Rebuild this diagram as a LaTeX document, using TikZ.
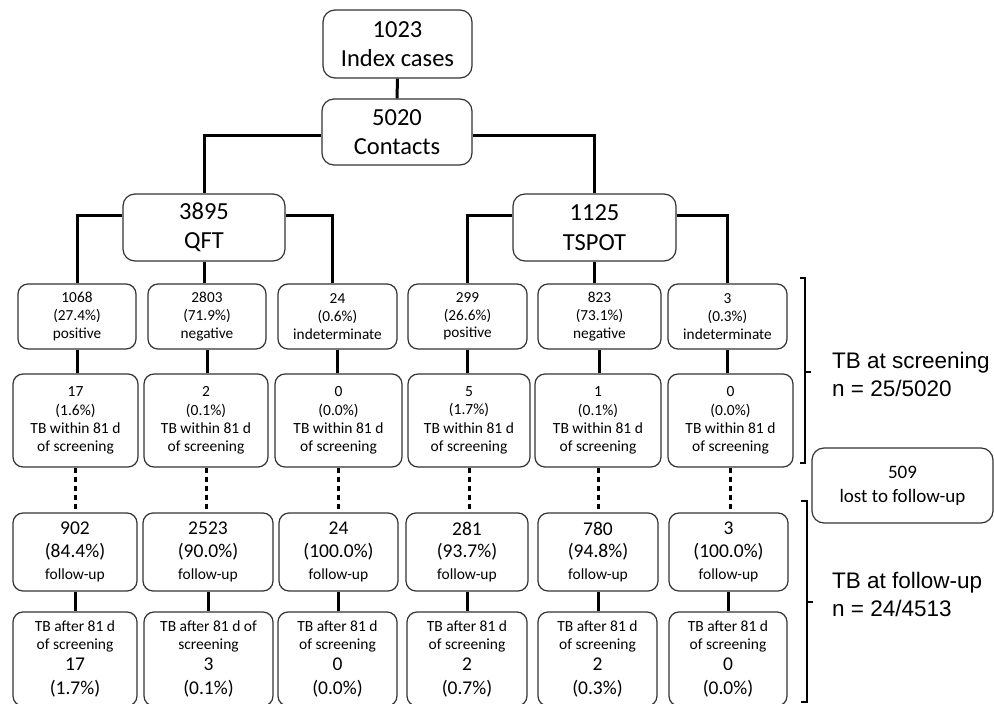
\documentclass[tikz,border=0pt]{standalone}
\usepackage{fontspec}
\newfontfamily\calfont{Carlito}
\newfontfamily\arfont{Liberation Sans}
\begin{document}
\begin{tikzpicture}[x=1pt,y=-1pt,
  box/.style={draw=black!80, line width=1.2pt, rounded corners=10pt, align=center, inner sep=0pt, text=black},
  big/.style={box, rounded corners=12pt, font=\calfont\fontsize{24.5}{29.5}\selectfont},
  rowa/.style={box, minimum height=65pt, font=\calfont\fontsize{15.3}{17.7}\selectfont},
  rowb/.style={box, minimum height=93pt, font=\calfont\fontsize{15.5}{18.3}\selectfont},
  rowc/.style={box, minimum height=78pt, font=\calfont\fontsize{19.5}{22.3}\selectfont},
  rowd/.style={box, minimum height=94pt, font=\calfont\fontsize{15.5}{18}\selectfont},
  conn/.style={line width=3pt, draw=black},
  dconn/.style={conn, dash pattern=on 5.5pt off 3.5pt},
  brk/.style={line width=2.7pt, draw=black},
  side/.style={anchor=west, align=left, inner sep=0pt, font=\arfont\fontsize{22.5}{28}\selectfont}
]
\useasboundingbox (0,0) rectangle (994,704);

% top
\node[big, minimum width=149pt, minimum height=68pt] (idx) at (397.5,44) {1023\\Index cases};
\node[big, minimum width=150pt, minimum height=66pt] (con) at (397,132) {5020\\Contacts};
\node[big, minimum width=162pt, minimum height=67pt] (qft) at (204,227.5) {3895\\QFT};
\node[big, minimum width=163pt, minimum height=67pt] (tsp) at (594.5,227.5) {1125\\TSPOT};

% row 1
\node[rowa, minimum width=118pt] (p1) at (77,316.5) {1068\\(27.4\%)\\positive};
\node[rowa, minimum width=118pt] (n1) at (207,316.5) {2803\\(71.9\%)\\negative};
\node[rowa, minimum width=119pt] (i1) at (337.5,316.5) {24\\(0.6\%)\\indeterminate};
\node[rowa, minimum width=119pt] (p2) at (467.5,316.5) {299\\(26.6\%)\\positive};
\node[rowa, minimum width=123pt] (n2) at (599.5,316.5) {823\\(73.1\%)\\negative};
\node[rowa, minimum width=119pt] (i2) at (727.5,316.5) {3\\(0.3\%)\\indeterminate};

% row 2
\node[rowb, minimum width=125pt] (s1) at (75.5,420.5) {17\\(1.6\%)\\TB within 81 d\\of screening};
\node[rowb, minimum width=124pt] (s2) at (206,420.5) {2\\(0.1\%)\\TB within 81 d\\of screening};
\node[rowb, minimum width=127pt] (s3) at (338.5,420.5) {0\\(0.0\%)\\TB within 81 d\\of screening};
\node[rowb, minimum width=122pt] (s4) at (469,420.5) {5\\(1.7\%)\\TB within 81 d\\of screening};
\node[rowb, minimum width=126pt] (s5) at (598,420.5) {1\\(0.1\%)\\TB within 81 d\\of screening};
\node[rowb, minimum width=125pt] (s6) at (730.5,420.5) {0\\(0.0\%)\\TB within 81 d\\of screening};

% row 3
\node[rowc, minimum width=124pt] (f1) at (75,552) {902\\(84.4\%)\\{\fontsize{15.5}{18}\selectfont follow-up}};
\node[rowc, minimum width=130pt] (f2) at (208,552) {2523\\(90.0\%)\\{\fontsize{15.5}{18}\selectfont follow-up}};
\node[rowc, minimum width=119pt] (f3) at (338.5,552) {24\\(100.0\%)\\{\fontsize{15.5}{18}\selectfont follow-up}};
\node[rowc, minimum width=122pt] (f4) at (467,552) {281\\(93.7\%)\\{\fontsize{15.5}{18}\selectfont follow-up}};
\node[rowc, minimum width=120pt] (f5) at (598,552) {780\\(94.8\%)\\{\fontsize{15.5}{18}\selectfont follow-up}};
\node[rowc, minimum width=119pt] (f6) at (728.5,552) {3\\(100.0\%)\\{\fontsize{15.5}{18}\selectfont follow-up}};

% row 4
\node[rowd, minimum width=124pt] (a1) at (75,659) {TB after 81 d\\of screening\\[3pt]{\fontsize{19.5}{22}\selectfont 17}\\[6pt]{\fontsize{19.5}{22}\selectfont (1.7\%)}};
\node[rowd, minimum width=129pt] (a2) at (208.5,659) {TB after 81 d of\\screening\\[3pt]{\fontsize{19.5}{22}\selectfont 3}\\[6pt]{\fontsize{19.5}{22}\selectfont (0.1\%)}};
\node[rowd, minimum width=119pt] (a3) at (337.5,659) {TB after 81 d\\of screening\\[3pt]{\fontsize{19.5}{22}\selectfont 0}\\[6pt]{\fontsize{19.5}{22}\selectfont (0.0\%)}};
\node[rowd, minimum width=120pt] (a4) at (467,659) {TB after 81 d\\of screening\\[3pt]{\fontsize{19.5}{22}\selectfont 2}\\[6pt]{\fontsize{19.5}{22}\selectfont (0.7\%)}};
\node[rowd, minimum width=119pt] (a5) at (597.5,659) {TB after 81 d\\of screening\\[3pt]{\fontsize{19.5}{22}\selectfont 2}\\[6pt]{\fontsize{19.5}{22}\selectfont (0.3\%)}};
\node[rowd, minimum width=118pt] (a6) at (728,659) {TB after 81 d\\of screening\\[3pt]{\fontsize{19.5}{22}\selectfont 0}\\[6pt]{\fontsize{19.5}{22}\selectfont (0.0\%)}};

% lost
\node[box, rounded corners=12pt, minimum width=181pt, minimum height=75pt, font=\calfont\fontsize{19}{24}\selectfont] (lost) at (902.5,485.5) {509\\lost to follow-up};

% connectors top
\draw[conn] (idx.south) -- (con.north);
\draw[conn] ([yshift=-3pt]con.west) -| (qft.north);
\draw[conn] ([yshift=-3pt]con.east) -| (tsp.north);
\draw[conn] ([yshift=12.5pt]qft.west) -| (p1.north);
\draw[conn] ([yshift=12.5pt]qft.east) -| ([xshift=-5pt]i1.north);
\draw[conn] (qft.south) -- (qft.south |- n1.north);
\draw[conn] ([yshift=12.5pt]tsp.west) -| (p2.north);
\draw[conn] ([yshift=12.5pt]tsp.east) -| (i2.north);
\draw[conn] (tsp.south) -- (tsp.south |- n2.north);

% row1 -> row2
\foreach \u/\v in {p1/s1,n1/s2,i1/s3,p2/s4,n2/s5,i2/s6}
  \draw[conn] (\u.south) -- (\u.south |- \v.north);
% row2 -> row3 dashed
\foreach \u/\v in {s1/f1,s2/f2,s3/f3,s4/f4,s5/f5,s6/f6}
  \draw[dconn] (\u.south) -- (\u.south |- \v.north);
% row3 -> row4
\foreach \u/\v in {f1/a1,f2/a2,f3/a3,f4/a4,f5/a5,f6/a6}
  \draw[conn] (\u.south) -- (\u.south |- \v.north);

% brackets
\draw[brk] (800,278) -- (805,278) -- (805,463) -- (800,463);
\draw[brk] (805,372) -- (811,372);
\draw[brk] (801,501) -- (807,501) -- (807,702) -- (801,702);
\draw[brk] (807,602) -- (813,602);

\node[side] (tbs) at (832,374) {TB at screening\\n = 25/5020};
\node[side] (tbf) at (832,594) {TB at follow-up\\n = 24/4513};
\end{tikzpicture}
\end{document}
